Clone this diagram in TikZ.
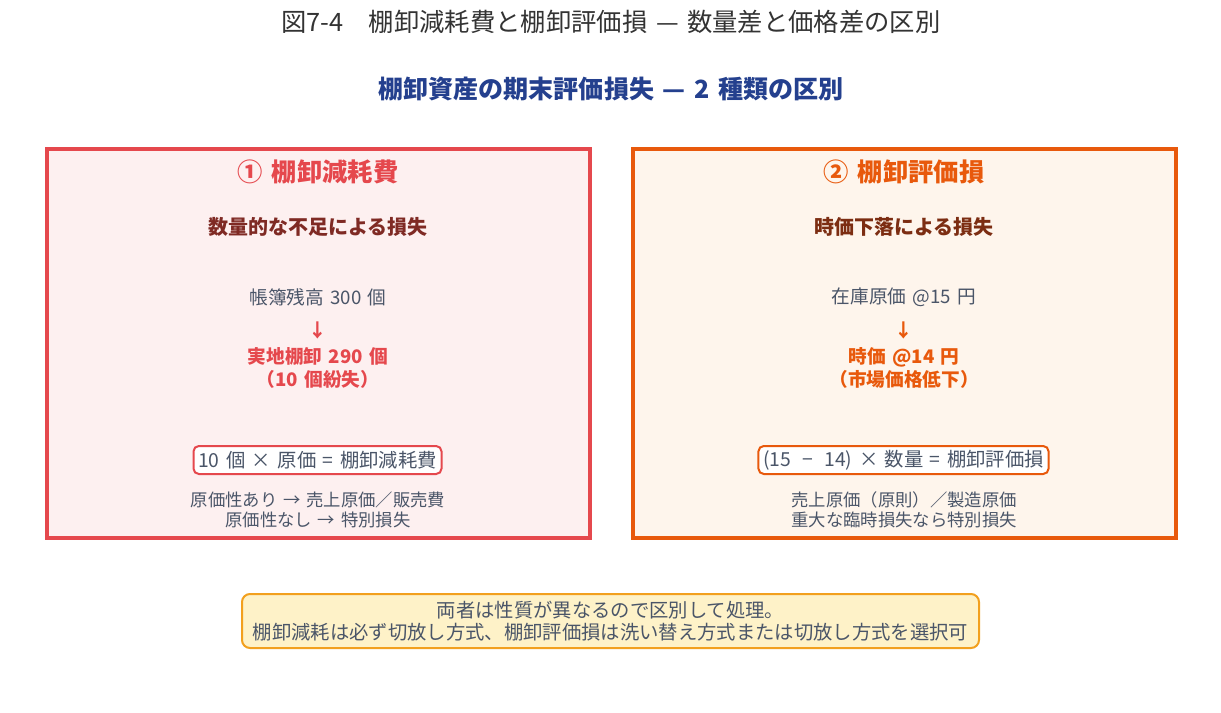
\documentclass[tikz,border=0pt]{standalone}
\usepackage{fontspec}
\setmainfont[WordSpace=1.5]{Noto Sans CJK JP}
\definecolor{redc}{HTML}{E5484D}
\definecolor{redfill}{HTML}{FDF0F0}
\definecolor{orc}{HTML}{E8590C}
\definecolor{orfill}{HTML}{FEF5EC}
\definecolor{darkred}{HTML}{7F2A24}
\definecolor{darkor}{HTML}{7C2D12}
\definecolor{bluet}{HTML}{24408E}
\definecolor{greyt}{HTML}{4A5568}
\definecolor{titlec}{HTML}{333333}
\definecolor{amber}{HTML}{F2A01E}
\definecolor{amberfill}{HTML}{FEF2C8}
\tikzset{
  panel/.style={draw=#1, line width=3pt, minimum width=543*0.75pt, minimum height=389*0.75pt, inner sep=0pt},
  headtxt/.style={text=#1, font=\fontsize{19}{22}\selectfont\bfseries},
  subtxt/.style={text=#1, font=\fontsize{15}{18}\selectfont\bfseries},
  bodytxt/.style={text=greyt, font=\fontsize{14}{17}\selectfont},
  boldtxt/.style={text=#1, align=center, font=\fontsize{14}{17.25}\selectfont\bfseries},
  arrowtxt/.style={text=#1, font=\fontsize{14}{17}\selectfont\bfseries},
  formula/.style={draw=#1, line width=1.5pt, fill=white, rounded corners=4pt, text=greyt, font=\fontsize{14.5}{17}\selectfont, inner xsep=3.5pt, inner ysep=2pt, minimum height=28*0.75pt},
  notetxt/.style={text=greyt, align=center, font=\fontsize{13}{15}\selectfont},
  bottombox/.style={draw=amber, line width=1.5pt, fill=amberfill, rounded corners=6pt, text=greyt, align=center, font=\fontsize{14.5}{16.5}\selectfont, minimum width=737*0.75pt, minimum height=54*0.75pt, inner sep=0pt}
}
\begin{document}
\begin{tikzpicture}[x=0.75pt,y=-0.75pt]
\useasboundingbox[fill=white] (0,0) rectangle (1221,713);
% titles
\node[text=titlec, font=\fontsize{19}{22}\selectfont] (title) at (611,22) {図7-4　棚卸減耗費と棚卸評価損 — 数量差と価格差の区別};
\node[text=bluet, font=\fontsize{18.8}{22}\selectfont\bfseries] (subtitle) at (611,89) {棚卸資産の期末評価損失 — 2 種類の区別};
% panels
\node[panel=redc, fill=redfill] (leftp) at (318.5,343.5) {};
\node[panel=orc, fill=orfill] (rightp) at (904,343.5) {};
% left panel content
\node[headtxt=redc] (lh) at (318,172) {① 棚卸減耗費};
\node[subtxt=darkred] (ls) at (318,227) {数量的な不足による損失};
\node[bodytxt] (lb) at (318,297) {帳簿残高 300 個};
\node[arrowtxt=redc] (la) at (318,330) {↓};
\node[boldtxt=redc] (lr) at (318,368) {実地棚卸 290 個\\（10 個紛失）};
\node[formula=redc] (lf) at (317.5,460) {10 個 × 原価 = 棚卸減耗費};
\node[notetxt] (ln) at (318,510) {原価性あり → 売上原価／販売費\\原価性なし → 特別損失};
% right panel content
\node[headtxt=orc] (rh) at (904,172) {② 棚卸評価損};
\node[subtxt=darkor] (rs) at (904,227) {時価下落による損失};
\node[bodytxt] (rb) at (904,297) {在庫原価 @15 円};
\node[arrowtxt=orc] (ra) at (904,330) {↓};
\node[boldtxt=orc] (rr) at (904,368) {時価 @14 円\\（市場価格低下）};
\node[formula=orc] (rf) at (903.5,460) {(15 \hspace{0.25em}−\hspace{0.25em} 14) × 数量 = 棚卸評価損};
\node[notetxt] (rn) at (904,510) {売上原価（原則）／製造原価\\重大な臨時損失なら特別損失};
% bottom
\node[bottombox] (bot) at (610.5,621) {両者は性質が異なるので区別して処理。\\棚卸減耗は必ず切放し方式、棚卸評価損は洗い替え方式または切放し方式を選択可};
\end{tikzpicture}
\end{document}
